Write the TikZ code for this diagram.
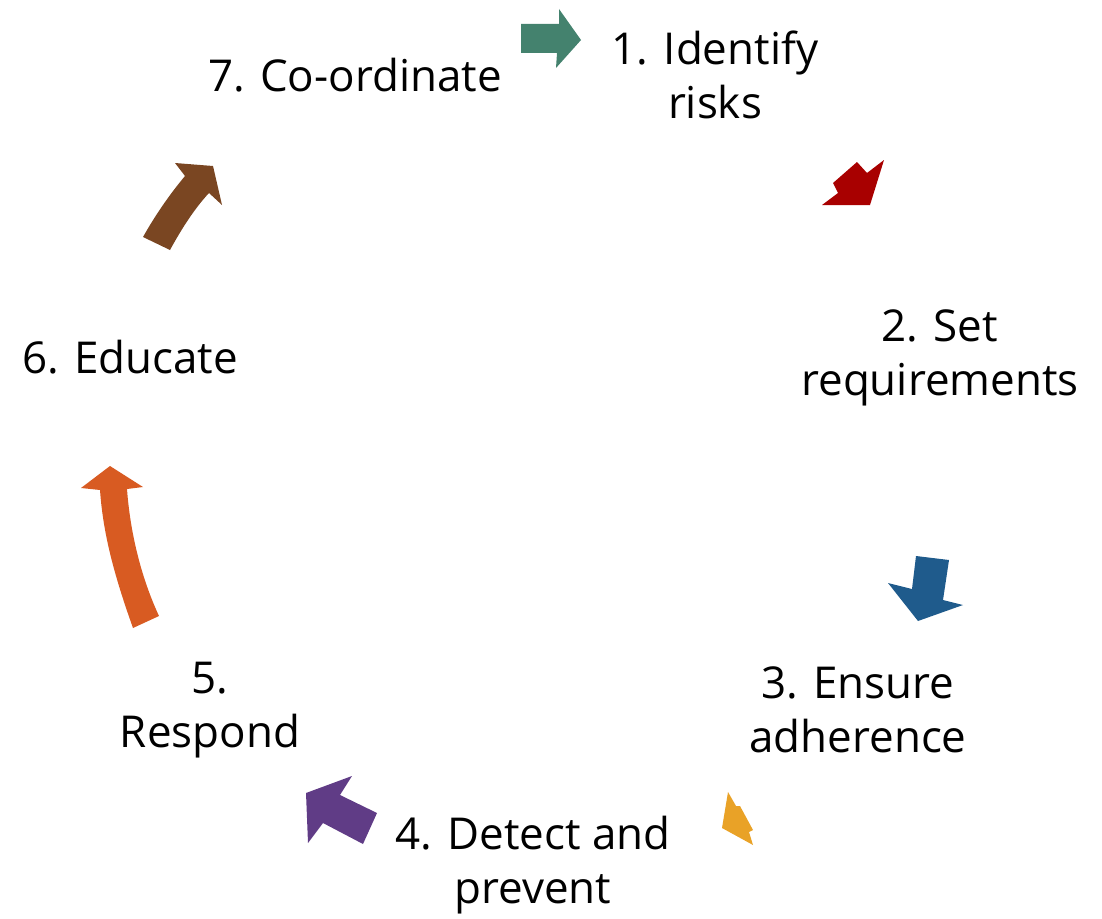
\documentclass[tikz,border=0pt]{standalone}
\usepackage{fontspec}
\setmainfont{Open Sans}
\definecolor{cyclegreen}{HTML}{44826E}
\definecolor{cyclered}{HTML}{A80000}
\definecolor{cycleblue}{HTML}{1F5B8C}
\definecolor{cycleyellow}{HTML}{E9A227}
\definecolor{cyclepurple}{HTML}{603C86}
\definecolor{cycleorange}{HTML}{D85B22}
\definecolor{cyclebrown}{HTML}{7A4622}

\begin{document}
\begin{tikzpicture}[x=0.02cm,y=-0.02cm,
  lbl/.style={align=center,font=\fontsize{25}{31}\selectfont,inner sep=0pt}]
\useasboundingbox (0,0) rectangle (1102,919);
% step labels
\node[lbl] (s1) at (715,75) {1. Identify\\risks};
\node[lbl] (s2) at (940,358) {2. Set\\requirements};
\node[lbl] (s3) at (858,710) {3. Ensure\\adherence};
\node[lbl] (s4) at (533,865) {4. Detect and\\prevent};
\node[lbl] (s5) at (210,710) {5.\\Respond};
\node[lbl] (s6) at (130,357) {6. Educate};
\node[lbl] (s7) at (355,75) {7. Co-ordinate};
% arrows between steps
\fill[cyclegreen] (521,24) -- (559,24) -- (559,9) -- (581,40) -- (556,68) -- (557,53) -- (521,53) -- cycle;
\fill[cyclered] (822,205) -- (838,193) -- (833,183) -- (857,162) -- (867,173) -- (884,160) -- (870,205) -- cycle;
\fill[cycleblue] (916,556) -- (949,560) -- (943,600) -- (963,605) -- (918,621) -- (888,583) -- (912,589) -- cycle;
\fill[cycleyellow] (728,792) -- (736,806) -- (740,806) -- (753,830) -- (749,832) -- (753,845) -- (722,828) -- cycle;
\fill[cyclepurple] (352,776) -- (340,795) -- (377,813) -- (363,844) -- (323,823) -- (308,843) -- (306,793) -- cycle;
\fill[cycleorange] (133,628) .. controls (113,572) and (103,532) .. (100,490) -- (81,488) -- (110,466) -- (143,487) -- (127,489)
  .. controls (130,530) and (140,575) .. (159,616) -- cycle;
\fill[cyclebrown] (143,237) .. controls (156,214) and (170,194) .. (185,176) -- (175,163) -- (213,166) -- (222,205) -- (209,193)
  .. controls (195,208) and (182,228) .. (170,250) -- cycle;
\end{tikzpicture}
\end{document}
